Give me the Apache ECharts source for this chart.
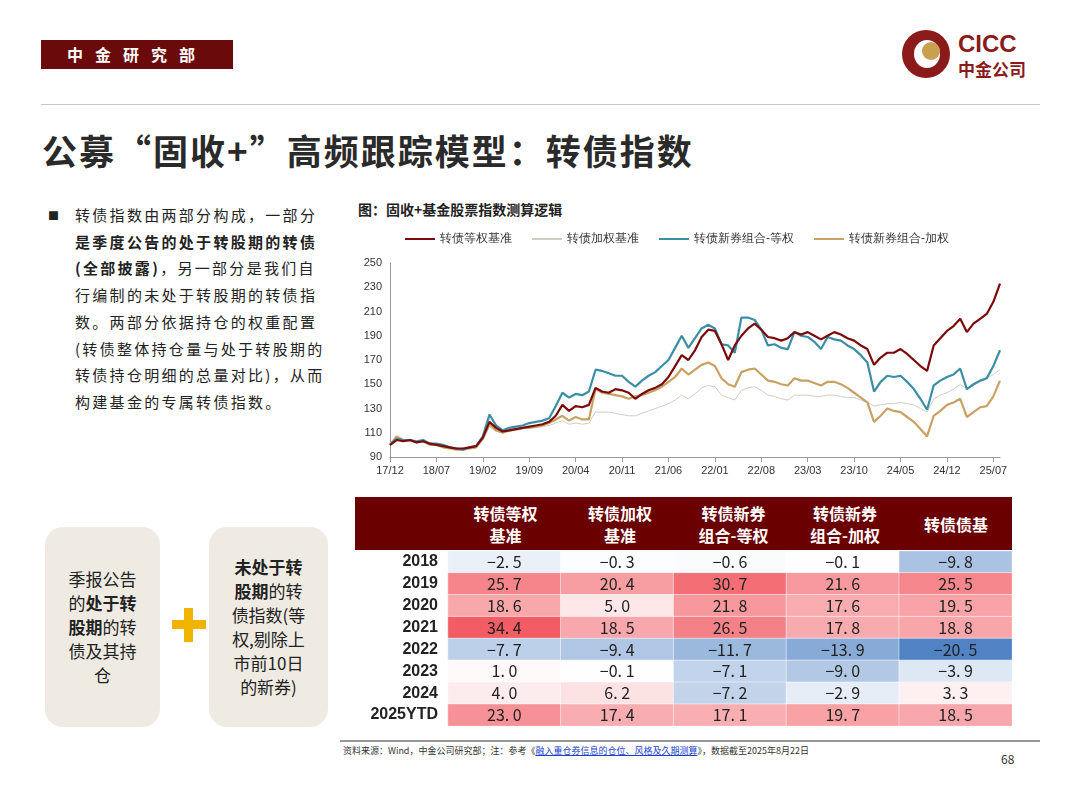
<!DOCTYPE html>
<html><head><meta charset="utf-8">
<script src="https://cdn.jsdelivr.net/npm/echarts@6/dist/echarts.min.js"></script>
<style>
body{margin:0;width:1080px;height:810px;background:#fff;font-family:"Noto Sans CJK SC","Noto Sans",sans-serif;position:relative;overflow:hidden;color:#222}
.abs{position:absolute}
#tag{left:41px;top:40px;width:192px;height:29px;background:#6b0a0a;color:#fff;font-size:16px;font-weight:bold;letter-spacing:12px;line-height:29px;text-align:center}
#title{left:42px;top:124px;font-size:35px;font-weight:bold;color:#2a2a2a;letter-spacing:2px}
#bullet{left:48px;top:202px;width:300px;font-size:15px;line-height:26.7px;letter-spacing:2.3px}
.box{background:#efebe3;border-radius:18px;font-size:17px;line-height:24px;text-align:center;display:flex;align-items:center;justify-content:center}
#th{left:355px;top:497px;width:657px;height:53px;background:#6b0000;color:#fff;font-size:16px;font-weight:bold}
#th div{position:absolute;top:0;height:53px;display:flex;align-items:center;justify-content:center;text-align:center;line-height:22px}
</style></head><body>
<div id="tag" class="abs">中金研究部</div>
<div class="abs" style="left:902px;top:30px;width:48px;height:48px;border-radius:50%;background:#8b1a1a"></div>
<div class="abs" style="left:914px;top:40px;width:26px;height:28px;border-radius:50%;background:#fff"></div>
<div class="abs" style="left:922px;top:42px;width:18px;height:18px;border-radius:50%;background:#c9a050"></div>
<div class="abs" style="left:958px;top:30px;font-size:24px;font-weight:bold;color:#8b1a1a;font-family:'Liberation Sans'">CICC</div>
<div class="abs" style="left:958px;top:56px;font-size:17px;font-weight:bold;color:#8b1a1a">中金公司</div>
<div class="abs" style="left:41px;top:104px;width:999px;height:1px;background:#c8c8c8"></div>
<div id="title" class="abs">公募“固收+”高频跟踪模型：转债指数</div>
<div id="bullet" class="abs"><span style="position:absolute;left:0;font-size:11px">■</span><div style="margin-left:27px">转债指数由两部分构成，一部分<br><b>是季度公告的处于转股期的转债<br>(全部披露)</b>，另一部分是我们自<br>行编制的未处于转股期的转债指<br>数。两部分依据持仓的权重配置<br>(转债整体持仓量与处于转股期的<br>转债持仓明细的总量对比)，从而<br>构建基金的专属转债指数。</div></div>
<div class="abs box" style="left:45px;top:527px;width:115px;height:200px"><div>季报公告<br>的<b>处于转<br>股期</b>的转<br>债及其持<br>仓</div></div>
<div class="abs" style="left:172px;top:620px;width:34px;height:9px;background:#f0b400"></div>
<div class="abs" style="left:184px;top:608px;width:9px;height:34px;background:#f0b400"></div>
<div class="abs box" style="left:209px;top:527px;width:119px;height:200px"><div><b>未处于转<br>股期</b>的转<br>债指数(等<br>权,剔除上<br>市前10日<br>的新券)</div></div>
<div class="abs" style="left:358px;top:199px;font-size:14px;font-weight:bold">图：固收+基金股票指数测算逻辑</div>
<div id="line" class="abs" style="left:350px;top:222px;width:680px;height:270px"></div>
<div id="th" class="abs">
<div style="left:93px;width:115px">转债等权<br>基准</div>
<div style="left:208px;width:114px">转债加权<br>基准</div>
<div style="left:322px;width:113px">转债新券<br>组合-等权</div>
<div style="left:435px;width:110px">转债新券<br>组合-加权</div>
<div style="left:545px;width:112px">转债债基</div>
</div>
<div id="tbl" class="abs" style="left:355px;top:551px;width:657px;height:175px"></div>
<div class="abs" style="left:340px;top:740px;width:700px;height:2px;background:#999"></div>
<div class="abs" style="left:343px;top:744px;font-size:9px;color:#333">资料来源：Wind，中金公司研究部；注：参考《<span style="color:#1a3ecf;text-decoration:underline">融入重仓券信息的仓位、风格及久期测算</span>》，数据截至2025年8月22日</div>
<div class="abs" style="left:1001px;top:750px;font-size:12px;color:#333">68</div>
<script>
// 月度类目 17/12 - 25/08
const months = [];
for (let y = 2017, m = 12; y < 2025 || m <= 8; ) {
    months.push(String(y).slice(2) + '/' + String(m).padStart(2, '0'));
    m++; if (m > 12) { m = 1; y++; }
}
const seriesNames = ['转债等权基准', '转债加权基准', '转债新券组合-等权', '转债新券组合-加权'];
const eqBench = [100,104,103,104,102,103,101,100,99,98,97,97,98,99,106,119,114,111,112,113,114,115,116,117,119,124,133,128,132,131,133,147,144,143,146,145,143,138,142,145,147,150,156,165,174,170,178,189,195,194,183,170,182,190,196,200,195,189,188,186,188,193,191,193,190,187,190,193,191,188,186,182,179,166,172,176,176,179,175,170,165,161,182,188,194,198,204,193,200,204,208,218,233];
const wtBench = [100,105,103,103,102,103,100,100,99,98,97,96,97,98,104,115,111,110,111,112,113,114,114,115,116,118,120,117,118,117,118,127,127,127,126,125,124,124,126,128,130,132,134,137,141,138,142,147,149,148,141,139,137,145,147,148,145,141,140,138,137,141,141,141,140,140,141,141,140,139,139,137,135,132,133,134,134,135,134,133,130,127,138,141,143,146,150,146,149,152,155,158,162];
const newEq = [100,105,104,104,103,104,101,101,100,98,97,96,98,99,107,125,116,112,114,115,116,118,119,120,122,132,143,139,142,141,144,162,161,159,157,157,152,148,153,157,160,165,170,180,190,180,188,196,199,196,183,182,176,205,205,203,195,182,183,180,179,193,190,189,185,179,189,187,186,182,179,174,168,144,152,157,156,157,152,146,138,129,149,153,156,158,163,146,150,153,155,165,178];
const newWt = [100,107,104,104,102,103,100,100,98,97,96,96,97,98,105,117,112,110,112,113,114,114,115,116,118,121,124,120,123,121,121,146,143,142,141,140,138,140,141,143,145,148,152,156,163,158,162,166,168,165,155,150,148,160,162,163,158,153,152,150,149,155,153,153,151,149,152,152,150,147,143,139,135,119,124,130,128,127,123,119,113,107,124,128,133,135,138,123,127,131,132,140,153];
const lineColors = ['#7b0a0a', '#cfcdc4', '#3b8fa5', '#c9a263'];

const years = ['2018', '2019', '2020', '2021', '2022', '2023', '2024', '2025YTD'];
const cols = ['转债等权基准', '转债加权基准', '转债新券组合-等权', '转债新券组合-加权', '转债债基'];
const ret2018 = [-2.5, -0.3, -0.6, -0.1, -9.8];
const ret2019 = [25.7, 20.4, 30.7, 21.6, 25.5];
const ret2020 = [18.6, 5.0, 21.8, 17.6, 19.5];
const ret2021 = [34.4, 18.5, 26.5, 17.8, 18.8];
const ret2022 = [-7.7, -9.4, -11.7, -13.9, -20.5];
const ret2023 = [1.0, -0.1, -7.1, -9.0, -3.9];
const ret2024 = [4.0, 6.2, -7.2, -2.9, 3.3];
const ret2025 = [23.0, 17.4, 17.1, 19.7, 18.5];
const rows = [ret2018, ret2019, ret2020, ret2021, ret2022, ret2023, ret2024, ret2025];

function mix(a, b, t) {
    return 'rgb(' + [0, 1, 2].map(i => Math.round(a[i] + (b[i] - a[i]) * t)).join(',') + ')';
}
function cellColor(v) {
    if (v >= 0) return mix([255, 255, 255], [242, 92, 100], Math.min(v / 34.4, 1));
    return mix([255, 255, 255], [80, 130, 196], Math.min(-v / 20.5, 1));
}

let lineChart = echarts.init(document.getElementById('line'));
lineChart.setOption({
    animation: false,
    legend: {
        top: 6, left: 50, itemWidth: 30, itemHeight: 2, itemGap: 20,
        icon: 'rect',
        textStyle: {fontSize: 12, color: '#333'},
        data: seriesNames
    },
    grid: {left: 40, right: 30, top: 41, bottom: 35},
    xAxis: {
        type: 'category', data: months, boundaryGap: false,
        axisLine: {lineStyle: {color: '#999'}},
        axisTick: {show: true, interval: 6, alignWithLabel: true, lineStyle: {color: '#999'}},
        axisLabel: {interval: 6, color: '#333', fontSize: 11, fontFamily: 'Liberation Sans'}
    },
    yAxis: {
        type: 'value', min: 90, max: 250, interval: 20,
        splitLine: {show: false},
        axisLine: {show: true, lineStyle: {color: '#999'}},
        axisLabel: {color: '#333', fontSize: 11, fontFamily: 'Liberation Sans'}
    },
    series: [eqBench, wtBench, newEq, newWt].map((d, i) => ({
        name: seriesNames[i], type: 'line', data: d, symbol: 'none',
        z: [4, 1, 3, 2][i],
        lineStyle: {width: i === 1 ? 1 : 2.2, color: lineColors[i]},
        itemStyle: {color: lineColors[i]}
    }))
});

let heat = [];
rows.forEach((r, yi) => r.forEach((v, xi) => {
    heat.push({value: [xi, yi, v], itemStyle: {color: cellColor(v)}});
}));
let tblChart = echarts.init(document.getElementById('tbl'));
tblChart.setOption({
    animation: false,
    grid: {left: 93, right: 0, top: 0, bottom: 0},
    xAxis: {type: 'category', data: cols, show: false},
    yAxis: {
        type: 'category', data: years, inverse: true,
        axisLine: {show: false}, axisTick: {show: false},
        axisLabel: {color: '#222', fontSize: 16, fontWeight: 'bold', margin: 10, fontFamily: 'Liberation Sans'}
    },
    series: [{
        type: 'heatmap', data: heat,
        label: {
            show: true, color: '#222', fontSize: 16, fontFamily: 'Noto Sans CJK SC',
            formatter: p => p.value[2].toFixed(1).replace('-', '−').replace('.', '. ')
        },
        itemStyle: {borderColor: '#fff', borderWidth: 0.5}
    }]
});
</script>
</body></html>
